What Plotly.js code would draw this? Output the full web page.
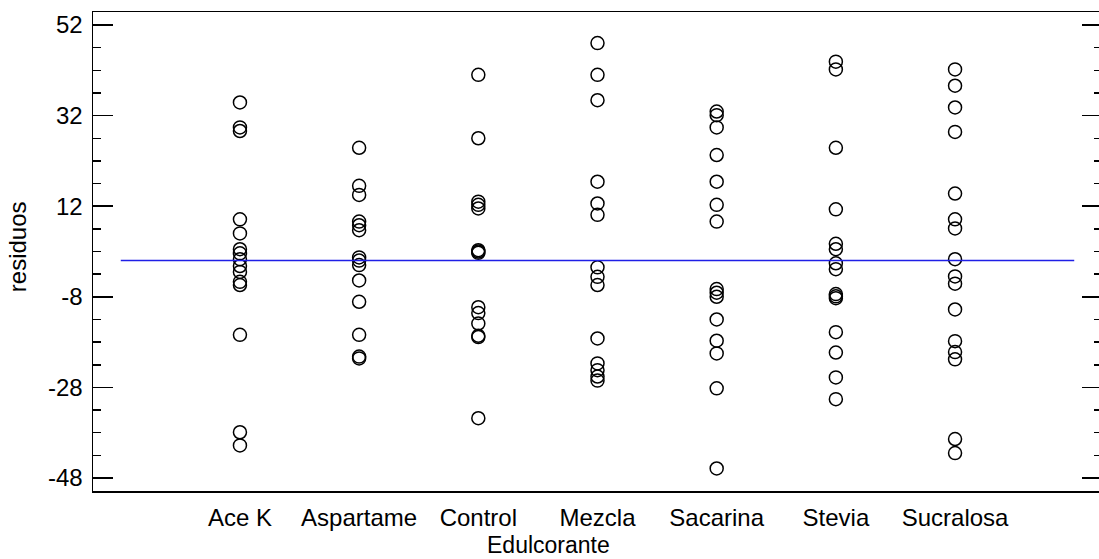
<!DOCTYPE html>
<html>
<head>
<meta charset="utf-8">
<script src="https://cdn.plot.ly/plotly-3.0.1.min.js"></script>
<style>
  html, body { margin: 0; padding: 0; background: #fff; overflow: hidden; }
  #chart { width: 1104px; height: 559px; }
</style>
</head>
<body>
<div id="chart"></div>
<script>
// Residuals by sweetener group
const categories = ['Ace K', 'Aspartame', 'Control', 'Mezcla', 'Sacarina', 'Stevia', 'Sucralosa'];

const aceK      = [34.9, 29.4, 28.6, 9.1, 6.0, 2.5, 1.6, 0.3, -1.2, -2.5, -4.7, -5.4, -16.4, -37.9, -40.8];
const aspartame = [24.9, 16.5, 14.5, 8.6, 7.8, 6.7, 0.7, 0.0, -1.0, -4.4, -9.1, -16.4, -21.2, -21.6];
const control   = [41.0, 27.0, 13.0, 12.3, 11.5, 2.3, 2.0, 1.7, -10.3, -11.6, -13.9, -16.6, -16.9, -34.8];
const mezcla    = [48.0, 41.0, 35.4, 17.4, 12.6, 10.1, -1.5, -3.6, -5.4, -17.2, -22.7, -24.2, -25.6, -26.5];
const sacarina  = [32.9, 32.1, 29.4, 23.3, 17.4, 12.3, 8.6, -6.3, -7.1, -8.0, -13.0, -17.7, -20.5, -28.2, -45.9];
const stevia    = [43.9, 42.2, 24.9, 11.3, 3.7, 2.5, -0.6, -1.9, -7.4, -7.9, -8.3, -15.8, -20.3, -25.8, -30.6];
const sucralosa = [42.2, 38.6, 33.8, 28.4, 14.8, 9.1, 7.1, 0.3, -3.5, -5.1, -10.8, -17.8, -20.2, -21.8, -39.4, -42.5];

const groups = [aceK, aspartame, control, mezcla, sacarina, stevia, sucralosa];

const xs = [], ys = [];
groups.forEach((vals, i) => {
  vals.forEach(v => { xs.push(i); ys.push(v); });
});

const yTicks = [-48, -28, -8, 12, 32, 52];
const font = { family: 'Liberation Sans, Arial, sans-serif', size: 24, color: '#000' };

const points = {
  type: 'scatter',
  mode: 'markers',
  x: xs,
  y: ys,
  marker: {
    symbol: 'circle-open',
    size: 13,
    color: '#000',
    line: { color: '#000', width: 1.5 }
  },
  hoverinfo: 'y',
  showlegend: false
};

const layout = {
  width: 1104,
  height: 559,
  margin: { l: 93, r: 2, t: 12, b: 68 },
  paper_bgcolor: '#fff',
  plot_bgcolor: '#fff',
  font: font,
  showlegend: false,
  xaxis: {
    range: [-1.233, categories.length + 0.233],
    tickmode: 'array',
    tickvals: categories.map((_, i) => i),
    ticktext: categories,
    ticks: '',
    showgrid: false,
    zeroline: false,
    showline: true,
    linecolor: '#000',
    linewidth: 1.5,
    mirror: true,
    tickfont: font,
    ticklabelstandoff: 5
  },
  yaxis: {
    range: [-50.87, 54.87],
    tickmode: 'array',
    tickvals: yTicks,
    ticktext: yTicks.map(String),
    ticks: 'inside',
    ticklen: 20,
    tickwidth: 1.5,
    tickcolor: '#000',
    minor: { ticks: 'inside', dtick: 5, tick0: -48, ticklen: 8, tickwidth: 1.5, tickcolor: '#000', showgrid: false },
    showgrid: false,
    zeroline: false,
    showline: true,
    linecolor: '#000',
    linewidth: 1.5,
    mirror: 'ticks',
    tickfont: font,
    ticklabelstandoff: 4
  },
  shapes: [{
    type: 'line',
    xref: 'x', yref: 'y',
    x0: -1, x1: categories.length,
    y0: 0, y1: 0,
    line: { color: '#1f1fe6', width: 1.5 }
  }],
  annotations: [
    {
      text: 'residuos',
      xref: 'paper', yref: 'paper',
      x: -0.0753, y: 0.509,
      xanchor: 'center', yanchor: 'middle',
      textangle: -90,
      showarrow: false,
      font: font
    },
    {
      text: 'Edulcorante',
      xref: 'paper', yref: 'paper',
      x: 0.451, y: -0.112,
      xanchor: 'center', yanchor: 'middle',
      showarrow: false,
      font: { family: font.family, size: 23, color: '#000' }
    }
  ]
};

Plotly.newPlot('chart', [points], layout, { staticPlot: true, displayModeBar: false });
</script>
</body>
</html>
